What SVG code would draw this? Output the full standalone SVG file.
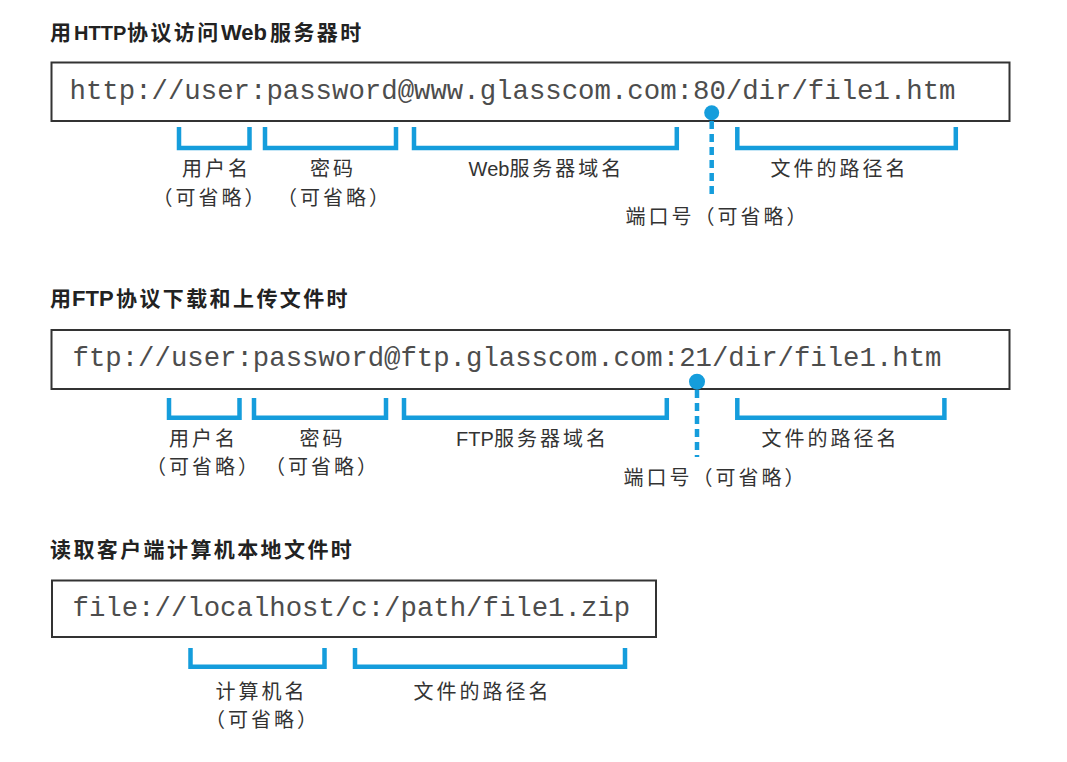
<svg xmlns="http://www.w3.org/2000/svg" width="1067" height="762" viewBox="0 0 1067 762">
<style>
.title{font-family:"Liberation Sans","Noto Sans CJK SC",sans-serif;font-size:21px;font-weight:bold;fill:#222}
.cj{letter-spacing:2.4px}
.box{fill:#fff;stroke:#333;stroke-width:2}
.url{font-family:"Liberation Mono","DejaVu Sans Mono",monospace;font-size:27.3px;fill:#4d4d4d}
.lbl{font-family:"Liberation Sans","Noto Sans CJK SC",sans-serif;font-size:20px;letter-spacing:3px;fill:#333;text-anchor:middle}
.lat{letter-spacing:0}
.br{fill:none;stroke:#159ddc;stroke-width:4.5}
.dash{stroke:#159ddc;stroke-width:4.5;stroke-dasharray:8 5}
.dot{fill:#159ddc}
</style>
<rect width="1067" height="762" fill="#fff"/>

<g id="http-title">
<text class="title" y="40"><tspan x="50">用</tspan><tspan x="74" font-size="20">HTTP</tspan><tspan x="127" class="cj">协议访问</tspan><tspan x="221" font-size="22">Web</tspan><tspan x="270" class="cj">服务器时</tspan></text>
</g>
<g id="http-url">
<rect class="box" x="51.5" y="62.5" width="958" height="58.5"/>
<text class="url" x="69.5" y="99" textLength="886" lengthAdjust="spacingAndGlyphs">http://user:password@www.glasscom.com:80/dir/file1.htm</text>
</g>
<g id="http-user"><text class="lbl" x="216.5" y="176">用户名</text><text class="lbl" x="210" y="205">（可省略）</text></g>
<g id="http-pass"><text class="lbl" x="333" y="176">密码</text><text class="lbl" x="334.5" y="205">（可省略）</text></g>
<g id="http-host"><text class="lbl" x="546.5" y="176"><tspan class="lat">Web</tspan>服务器域名</text></g>
<g id="http-path"><text class="lbl" x="839.5" y="176">文件的路径名</text></g>
<g id="http-port"><text class="lbl" x="717.5" y="224">端口号（可省略）</text></g>

<g id="ftp-title">
<text class="title" y="306"><tspan x="50">用</tspan><tspan x="72" font-size="22">FTP</tspan><tspan x="116" class="cj">协议下载和上传文件时</tspan></text>
</g>
<g id="ftp-url">
<rect class="box" x="51.5" y="330" width="958" height="59"/>
<text class="url" x="72.5" y="366" textLength="869" lengthAdjust="spacingAndGlyphs">ftp://user:password@ftp.glasscom.com:21/dir/file1.htm</text>
</g>
<g id="ftp-user"><text class="lbl" x="203.5" y="446">用户名</text><text class="lbl" x="203.5" y="474">（可省略）</text></g>
<g id="ftp-pass"><text class="lbl" x="322.5" y="446">密码</text><text class="lbl" x="322.5" y="474">（可省略）</text></g>
<g id="ftp-host"><text class="lbl" x="532.5" y="446"><tspan class="lat">FTP</tspan>服务器域名</text></g>
<g id="ftp-path"><text class="lbl" x="830.5" y="446">文件的路径名</text></g>
<g id="ftp-port"><text class="lbl" x="715.5" y="485">端口号（可省略）</text></g>

<g id="file-title">
<text class="title cj" x="50" y="557">读取客户端计算机本地文件时</text>
</g>
<g id="file-url">
<rect class="box" x="52" y="580.5" width="604" height="56.5"/>
<text class="url" x="72.5" y="616" textLength="557.6" lengthAdjust="spacingAndGlyphs">file://localhost/c:/path/file1.zip</text>
</g>
<g id="file-host"><text class="lbl" x="261.5" y="699">计算机名</text><text class="lbl" x="262.5" y="727">（可省略）</text></g>
<g id="file-path"><text class="lbl" x="482.5" y="699">文件的路径名</text></g>

<g id="connectors">
<path class="br" d="M179 127V148H249.5V127"/>
<path class="br" d="M265 127V148H396V127"/>
<path class="br" d="M414 127V148H676.8V127"/>
<path class="br" d="M737.3 127V148H955.8V127"/>
<line class="dash" x1="711.7" y1="121" x2="711.7" y2="197"/>
<circle class="dot" cx="711.7" cy="112.7" r="7.5"/>

<path class="br" d="M169 398V417.8H239.5V398"/>
<path class="br" d="M254 398V417.8H386V398"/>
<path class="br" d="M404 398V417.8H666.8V398"/>
<path class="br" d="M737.3 398V417.8H944.4V398"/>
<line class="dash" x1="697" y1="390" x2="697" y2="457"/>
<circle class="dot" cx="697" cy="381.7" r="8"/>

<path class="br" d="M190.5 648V666.8H324.5V648"/>
<path class="br" d="M355 648V666.8H625V648"/>
</g>
</svg>
